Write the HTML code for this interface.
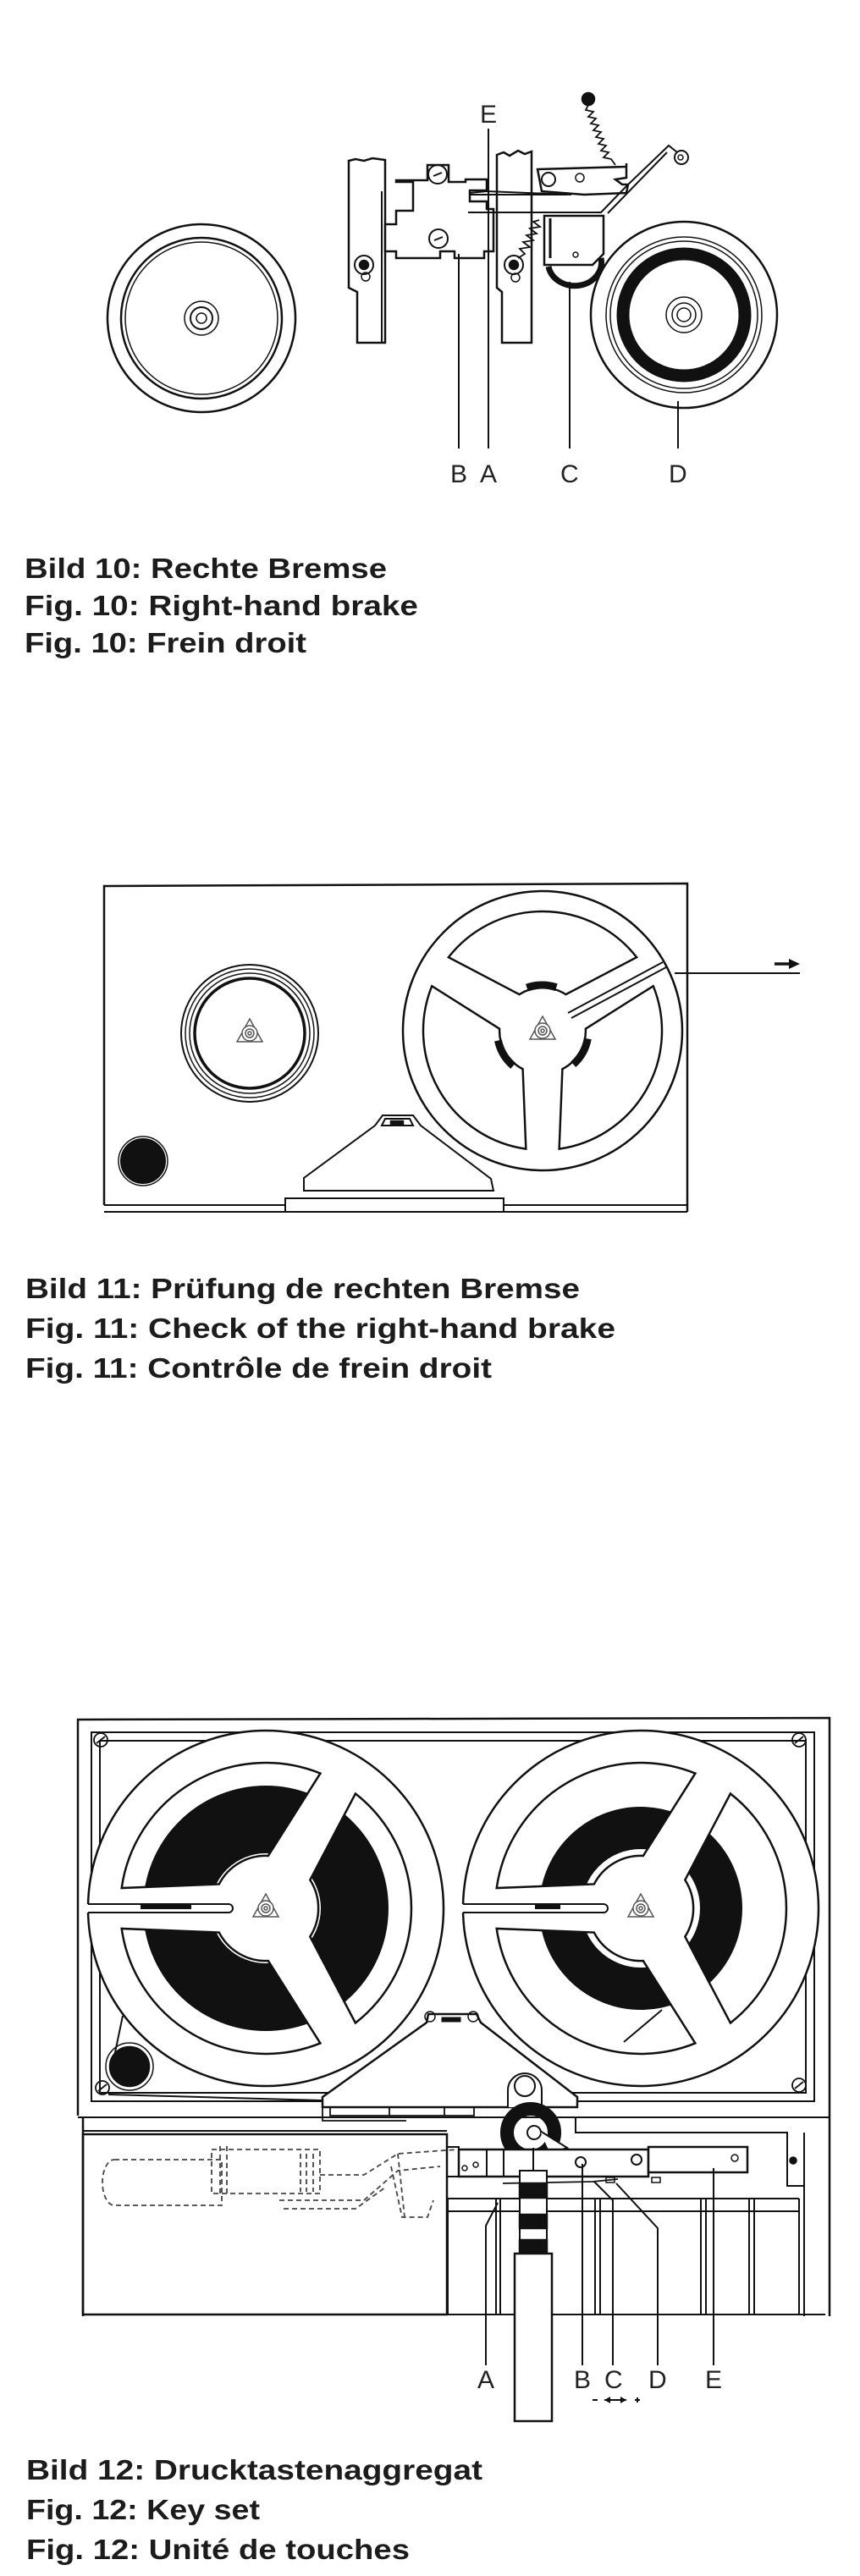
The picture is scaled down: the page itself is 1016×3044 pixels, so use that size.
<!DOCTYPE html>
<html><head><meta charset="utf-8"><style>
html,body{margin:0;padding:0;background:#fff;}
svg{display:block;}
.cap{font-family:"Liberation Sans",sans-serif;font-weight:bold;font-size:33px;fill:#1c1c1c;}
.lbl{font-family:"Liberation Sans",sans-serif;font-size:30px;fill:#222;}
</style></head><body>
<svg width="1016" height="3044" viewBox="0 0 1016 3044" xmlns="http://www.w3.org/2000/svg">
<defs>
<path id="W" d="M105.9,-135.5 A172,172 0 0 1 105.9,135.5 L52.3,33.5 A62,62 0 0 0 52.3,-33.5 Z"/>
<clipPath id="win12">
<use href="#W"/><use href="#W" transform="rotate(120)"/><use href="#W" transform="rotate(240)"/>
</clipPath>
<g id="hub" fill="none" stroke="#555" stroke-width="1.5">
<polygon points="0,-17 15,10 -15,10"/><circle r="9" fill="#fff"/><circle r="5"/><circle r="2"/>
</g>
</defs>
<rect width="1016" height="3044" fill="#fff"/>

<!-- ================= FIG 10 ================= -->
<g fill="none" stroke="#111" stroke-width="2.5">
<circle cx="238" cy="376" r="111"/>
<circle cx="238" cy="376" r="95" stroke-width="2.5"/>
<circle cx="238" cy="376" r="90" stroke-width="1.5"/>
<circle cx="238" cy="376" r="20" stroke-width="1.5"/>
<circle cx="238" cy="376" r="13" stroke-width="2"/>
<circle cx="238" cy="376" r="6" stroke-width="1.5"/>
<circle cx="808" cy="372" r="110"/>
<circle cx="808" cy="372" r="92" stroke-width="1.5"/>
<circle cx="808" cy="372" r="87" stroke-width="1.5"/>
<circle cx="808" cy="372" r="72" stroke-width="15"/>
<circle cx="808" cy="372" r="21" stroke-width="1.5"/>
<circle cx="808" cy="372" r="14" stroke-width="1.5"/>
<circle cx="808" cy="372" r="8" stroke-width="1.5"/>
<path d="M412,190 L420,188 L430,190 L440,187 L455,189 L455,405 L422,405 L422,345 L412,340 Z" fill="#fff"/>
<line x1="451" y1="226" x2="451" y2="405" stroke-width="2"/>
<circle cx="430" cy="313" r="11" stroke-width="2"/>
<circle cx="430" cy="313" r="5" fill="#111"/>
<circle cx="432" cy="327" r="5" stroke-width="1.5"/>
<path d="M455,265 L468,265 L468,249 L488,249 L488,215 L468,215 L468,213 L505,213 L505,195 L530,195 L530,215 L550,215 L550,212 L575,212 L575,225 L555,225 L555,238 L575,238 L575,247 L583,247 L583,297 L572,297 L572,305 L537,305 L537,297 L520,297 L520,305 L468,305 L468,297 L455,297 Z" fill="#fff"/>
<circle cx="517" cy="206" r="11" stroke-width="2"/>
<line x1="512" y1="208" x2="522" y2="204" stroke-width="2"/>
<circle cx="518" cy="282" r="11" stroke-width="2"/>
<line x1="513" y1="284" x2="523" y2="280" stroke-width="2"/>
<path d="M587,183 L595,180 L602,184 L612,178 L620,182 L628,179 L628,405 L593,405 L593,345 L587,340 Z" fill="#fff"/>
<circle cx="607" cy="313" r="11" stroke-width="2"/>
<circle cx="607" cy="313" r="5" fill="#111"/>
<circle cx="609" cy="328" r="5" stroke-width="1.5"/>
<path d="M635,200 L740,197 L740,193 L740,210 L727,212 L735,218 L742,218 L740,228 L690,230 L640,226 Z" fill="#fff"/>
<circle cx="648" cy="212" r="8" stroke-width="2"/>
<circle cx="685" cy="210" r="5" stroke-width="1.5"/>
<path d="M555,228 L575,226 L675,230 L670,228" stroke-width="2"/>
<path d="M555,230 L670,230" stroke-width="2"/>
<path d="M553,251 L710,251 L740,220 L790,172 L800,180" stroke-width="2"/>
<path d="M718,252 L788,180" stroke-width="2"/>
<circle cx="805" cy="186" r="8" stroke-width="2"/>
<circle cx="804" cy="186" r="3" stroke-width="1.5"/>
<path d="M643,255 L713,255 L713,300 L700,313 L643,313 Z" fill="#fff"/>
<path d="M650,258 L650,305" stroke-width="3"/>
<path d="M648,315 A25,22 0 0 0 710,305" stroke-width="7"/>
<circle cx="680" cy="301" r="3" stroke-width="1.5"/>
<path d="M727,195 L722,188 L713,186 L719,180 L710,178 L716,172 L707,170 L713,164 L704,162 L710,156 L701,154 L707,148 L698,146 L704,140 L695,138 L701,132 L692,130 L696,122" stroke-width="1.8"/>
<circle cx="695" cy="117" r="7" fill="#111"/>
<path d="M637,260 L630,262 L638,268 L626,270 L634,276 L622,278 L630,284 L618,286 L626,292 L614,294 L620,300 L612,305" stroke-width="1.8"/>
<line x1="577" y1="152" x2="577" y2="530" stroke-width="2"/>
<line x1="542" y1="300" x2="542" y2="530" stroke-width="2"/>
<line x1="673" y1="333" x2="673" y2="530" stroke-width="2"/>
<line x1="801" y1="474" x2="801" y2="530" stroke-width="2"/>
</g>
<text class="lbl" x="567" y="145">E</text>
<text class="lbl" x="532" y="570">B</text>
<text class="lbl" x="567" y="570">A</text>
<text class="lbl" x="662" y="570">C</text>
<text class="lbl" x="790" y="570">D</text>
<text class="cap" x="29" y="683" textLength="428" lengthAdjust="spacingAndGlyphs">Bild 10: Rechte Bremse</text>
<text class="cap" x="29" y="727" textLength="465" lengthAdjust="spacingAndGlyphs">Fig. 10: Right-hand brake</text>
<text class="cap" x="29" y="771" textLength="333" lengthAdjust="spacingAndGlyphs">Fig. 10: Frein droit</text>

<!-- ================= FIG 11 ================= -->
<g fill="none" stroke="#111" stroke-width="2.5">
<path d="M123,1424 L123,1047 L812,1044 L812,1432"/>
<path d="M123,1424 L337,1424 M595,1424 L812,1424" stroke-width="2"/>
<path d="M123,1432 L337,1432 M595,1432 L812,1432" stroke-width="2"/>
<rect x="337" y="1416" width="258" height="16" stroke-width="2"/>
<circle cx="295" cy="1221" r="81" stroke-width="2"/>
<circle cx="295" cy="1221" r="76" stroke-width="1.5"/>
<circle cx="295" cy="1221" r="71" stroke-width="1.5"/>
<circle cx="295" cy="1221" r="65" stroke-width="3.5"/>
<circle cx="641" cy="1218" r="165"/>
<g transform="translate(641,1218) scale(0.82)" stroke-width="3">
<use href="#W" transform="rotate(-90)"/>
<use href="#W" transform="rotate(30)"/>
<use href="#W" transform="rotate(150)"/>
<path d="M0,-66 A66,66 0 0 1 40,-52" stroke-width="11" transform="rotate(-20)"/>
<path d="M0,-66 A66,66 0 0 1 40,-52" stroke-width="11" transform="rotate(100)"/>
<path d="M0,-66 A66,66 0 0 1 40,-52" stroke-width="11" transform="rotate(220)"/>
</g>
<path d="M671,1197 L783,1137 M675,1203 L787,1143" stroke-width="2"/>
<line x1="797" y1="1150" x2="945" y2="1150" stroke-width="2"/>
<path d="M359,1407 L359,1392 L443,1330 L452,1318 L488,1318 L497,1330 L580,1393 L583,1407 Z" fill="#fff" stroke-width="2"/>
<path d="M455,1322 L484,1322 L488,1330 L451,1330 Z" stroke-width="2"/>
<rect x="462" y="1325" width="14" height="4" fill="#111"/>
<circle cx="169" cy="1372" r="26" fill="#111" stroke-width="2"/>
<circle cx="169" cy="1372" r="29" stroke-width="1.5"/>
</g>
<path d="M915,1139 L935,1139" stroke="#111" stroke-width="3.5"/>
<path d="M932,1133 L945,1139 L932,1145 Z" fill="#111"/>
<use href="#hub" x="295" y="1221"/>
<use href="#hub" x="641" y="1218"/>
<text class="cap" x="30" y="1534" textLength="655" lengthAdjust="spacingAndGlyphs">Bild 11: Prüfung de rechten Bremse</text>
<text class="cap" x="30" y="1581" textLength="697" lengthAdjust="spacingAndGlyphs">Fig. 11: Check of the right-hand brake</text>
<text class="cap" x="30" y="1628" textLength="551" lengthAdjust="spacingAndGlyphs">Fig. 11: Contrôle de frein droit</text>

<!-- ================= FIG 12 ================= -->
<g fill="none" stroke="#111" stroke-width="2.5">
<path d="M92,2500 L92,2032 L980,2030 L980,2737"/>
<rect x="108" y="2047" width="854" height="436" stroke-width="2"/>
<rect x="118" y="2057" width="834" height="416" stroke-width="2"/>
<line x1="92" y1="2502" x2="980" y2="2502" stroke-width="2"/>
<line x1="98" y1="2518" x2="528" y2="2518" stroke-width="2"/>
<line x1="98" y1="2502" x2="98" y2="2737"/>
<rect x="98" y="2522" width="430" height="213" stroke-width="2.5"/>
<g stroke-width="1.8">
<circle cx="119" cy="2056" r="8"/><line x1="114" y1="2060" x2="124" y2="2052"/>
<circle cx="944" cy="2056" r="8"/><line x1="939" y1="2060" x2="949" y2="2052"/>
<circle cx="121" cy="2467" r="8"/><line x1="116" y1="2471" x2="126" y2="2463"/>
<circle cx="944" cy="2464" r="8"/><line x1="939" y1="2468" x2="949" y2="2460"/>
</g>
<path d="M135,2430 L145,2382" stroke-width="2"/>
<circle cx="153" cy="2442" r="23" fill="#111"/>
<circle cx="153" cy="2442" r="28" stroke-width="1.5"/>
<path d="M128,2475 L380,2482" stroke-width="2"/>
<g transform="translate(314,2255)">
<circle r="210" fill="#fff"/>
<circle r="105" stroke-width="80" clip-path="url(#win12)"/>
<g stroke-width="2.5">
<use href="#W"/><use href="#W" transform="rotate(120)"/><use href="#W" transform="rotate(240)"/>
</g>
<rect x="-212" y="-5" width="170" height="10" fill="#fff" stroke="none"/>
<path d="M-210,-5 L-44,-5 A5,5 0 0 1 -44,5 L-210,5" stroke-width="2"/>
<rect x="-148" y="-4" width="60" height="5" fill="#111" stroke="none"/>
</g>
<g transform="translate(757,2255)">
<circle r="210" fill="#fff"/>
<circle r="95" stroke-width="50" clip-path="url(#win12)"/>
<g stroke-width="2.5">
<use href="#W"/><use href="#W" transform="rotate(120)"/><use href="#W" transform="rotate(240)"/>
</g>
<line x1="-20" y1="158" x2="25" y2="120" stroke-width="2"/>
<rect x="-212" y="-5" width="170" height="10" fill="#fff" stroke="none"/>
<path d="M-210,-5 L-44,-5 A5,5 0 0 1 -44,5 L-210,5" stroke-width="2"/>
<rect x="-125" y="-4" width="30" height="5" fill="#111" stroke="none"/>
</g>
<path d="M381,2490 L381,2478 L504,2390 L506,2380 L563,2380 L568,2390 L682,2478 L682,2490 Z" fill="#fff" stroke-width="2.5"/>
<circle cx="508" cy="2383" r="6" stroke-width="1.5"/>
<circle cx="559" cy="2383" r="6" stroke-width="1.5"/>
<rect x="522" y="2384" width="22" height="5" fill="#111" stroke-width="1"/>
<path d="M381,2490 L381,2506 L480,2506 M390,2490 L390,2500 L560,2500 L560,2490 M460,2490 L460,2500 M525,2490 L525,2500" stroke-width="1.8"/>
<path d="M600,2490 L600,2470 A20,20 0 0 1 640,2470 L640,2490" fill="#fff" stroke-width="2"/>
<circle cx="620" cy="2465" r="12" stroke-width="2"/>
<circle cx="627" cy="2520" r="28" stroke-width="16"/>
<circle cx="631" cy="2520" r="8" stroke-width="2" fill="#fff"/>
<path d="M638,2518 L670,2538 L650,2545" stroke-width="2" fill="#fff"/>
<path d="M680,2502 L680,2520 L930,2520 L930,2583 L950,2583" stroke-width="2"/>
<line x1="950" y1="2520" x2="950" y2="2737" stroke-width="2"/>
<circle cx="937" cy="2553" r="3.5" fill="#111"/>
<path d="M528,2537 L542,2537 L542,2572 L528,2572" stroke-width="2"/>
<rect x="542" y="2540" width="224" height="32" fill="#fff" stroke-width="2.5"/>
<rect x="766" y="2537" width="117" height="30" fill="#fff" stroke-width="2.5"/>
<circle cx="562" cy="2558" r="3" stroke-width="1.5"/>
<circle cx="549" cy="2562" r="3" stroke-width="1.5"/>
<line x1="575" y1="2540" x2="575" y2="2572" stroke-width="2"/>
<line x1="595" y1="2540" x2="595" y2="2572" stroke-width="2"/>
<circle cx="686" cy="2555" r="6" stroke-width="2"/>
<circle cx="752" cy="2552" r="6" stroke-width="2"/>
<circle cx="868" cy="2550" r="4" stroke-width="1.5"/>
<path d="M594,2580 L700,2578 L730,2575" stroke-width="1.8"/>
<rect x="716" y="2573" width="10" height="6" stroke-width="1.5"/>
<rect x="770" y="2573" width="10" height="6" stroke-width="1.5"/>
<line x1="529" y1="2598" x2="944" y2="2598" stroke-width="2"/>
<line x1="529" y1="2613" x2="944" y2="2613" stroke-width="2"/>
<line x1="98" y1="2735" x2="975" y2="2735" stroke-width="2"/>
<g stroke-width="2">
<line x1="529" y1="2598" x2="529" y2="2735"/>
<line x1="586" y1="2598" x2="586" y2="2735"/>
<line x1="591" y1="2598" x2="591" y2="2735"/>
<line x1="703" y1="2598" x2="703" y2="2735"/>
<line x1="709" y1="2598" x2="709" y2="2735"/>
<line x1="828" y1="2598" x2="828" y2="2735"/>
<line x1="834" y1="2598" x2="834" y2="2735"/>
<line x1="885" y1="2598" x2="885" y2="2735"/>
<line x1="891" y1="2598" x2="891" y2="2735"/>
<line x1="944" y1="2598" x2="944" y2="2735"/>
</g>
<rect x="614" y="2565" width="32" height="98" fill="#fff" stroke-width="2"/>
<line x1="630" y1="2538" x2="630" y2="2565" stroke-width="2"/>
<rect x="614" y="2580" width="32" height="17" fill="#111"/>
<rect x="614" y="2617" width="32" height="16" fill="#111"/>
<rect x="614" y="2647" width="32" height="16" fill="#111"/>
<rect x="608" y="2663" width="44" height="198" fill="#fff" stroke-width="2.5"/>
<g stroke-width="2">
<path d="M588,2603 L574,2630 L574,2795"/>
<line x1="688" y1="2557" x2="688" y2="2795"/>
<path d="M702,2578 L724,2600 L724,2795"/>
<path d="M728,2580 L777,2633 L777,2795"/>
<line x1="843" y1="2562" x2="843" y2="2795"/>
</g>
<g stroke="#444" stroke-width="1.8" stroke-dasharray="6,4">
<path d="M135,2552 L262,2552 L262,2606 L135,2606 A14,27 0 0 1 135,2552 Z"/>
<rect x="250" y="2540" width="128" height="52"/>
<path d="M260,2536 L260,2596 M268,2536 L268,2596"/>
<path d="M355,2545 L355,2590 M362,2545 L362,2590 M370,2545 L370,2590"/>
<path d="M378,2570 L430,2570 L470,2545 L540,2540"/>
<path d="M330,2600 L430,2600 L470,2565 L520,2560"/>
<path d="M335,2610 L420,2610 L455,2585"/>
<path d="M470,2545 L478,2620 M462,2560 L475,2620 L505,2620 L512,2600"/>
</g>
</g>
<use href="#hub" x="314" y="2255"/>
<use href="#hub" x="757" y="2255"/>
<text class="lbl" x="564" y="2822">A</text>
<text class="lbl" x="678" y="2822">B</text>
<text class="lbl" x="714" y="2822">C</text>
<text class="lbl" x="766" y="2822">D</text>
<text class="lbl" x="833" y="2822">E</text>
<g stroke="#111" stroke-width="2">
<line x1="700" y1="2836" x2="706" y2="2836"/>
<line x1="714" y1="2836" x2="740" y2="2836"/>
<line x1="750" y1="2836" x2="756" y2="2836"/><line x1="753" y1="2833" x2="753" y2="2839"/>
</g>
<path d="M714,2836 L721,2832 L721,2840 Z M740,2836 L733,2832 L733,2840 Z" fill="#111"/>
<text class="cap" x="31" y="2930" textLength="539" lengthAdjust="spacingAndGlyphs">Bild 12: Drucktastenaggregat</text>
<text class="cap" x="31" y="2977" textLength="276" lengthAdjust="spacingAndGlyphs">Fig. 12: Key set</text>
<text class="cap" x="31" y="3024" textLength="453" lengthAdjust="spacingAndGlyphs">Fig. 12: Unité de touches</text>
</svg>
</body></html>
